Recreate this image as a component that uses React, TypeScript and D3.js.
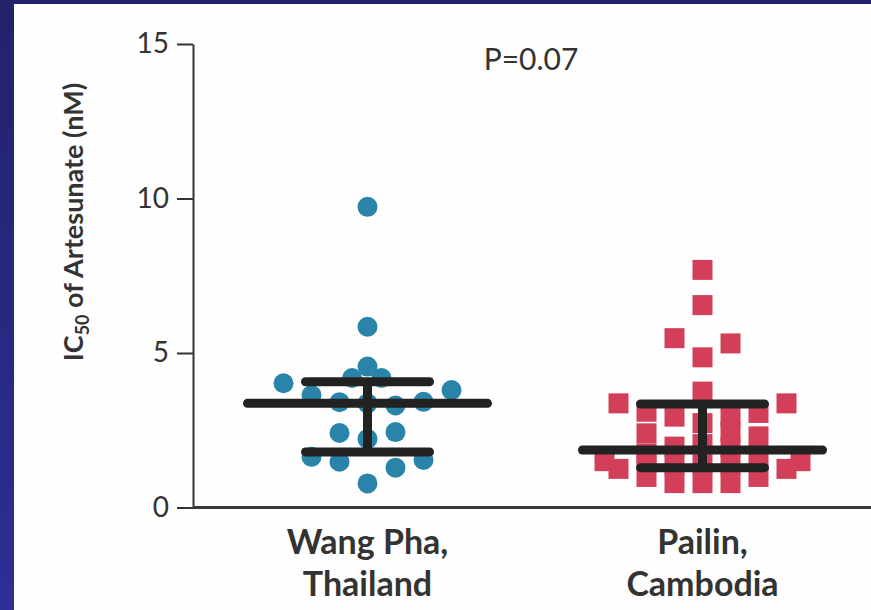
import React, { useEffect, useRef } from "react";
import { select, scaleLinear, scalePoint, axisLeft } from "d3";

// groups and labels
const groups = ["Wang Pha", "Pailin"];
const groupLabels = [
  ["Wang Pha,", "Thailand"],
  ["Pailin,", "Cambodia"],
];

// IC50 values (nM) and swarm column for each isolate
const wangPhaValues = [9.73, 5.85, 4.56, 4.19, 4.19, 4.02, 3.8, 3.64, 3.41, 3.37, 3.42, 3.3, 2.41, 2.44, 2.22, 1.64, 1.48, 1.54, 1.29, 0.78];
const wangPhaColumns = [0, 0, 0, -0.55, 0.5, -3, 3, -2, -1, 0, 2, 1, -1, 1, 0, -2, -1, 2, 1, 0];

const pailinValues = [7.69, 6.55, 5.48, 5.31, 4.86, 3.75, 3.37, 3.37, 3.1, 3.06, 2.94, 2.73, 2.94, 2.4, 2.45, 1.97, 1.95, 2.05, 1.5, 1.5, 1.55, 1.55, 1.4, 1.37, 1.37, 1.25, 1.25, 0.99, 0.99, 0.79, 0.79, 0.79, 2.3, 1.75];
const pailinColumns = [0, 0, -1, 1, 0, 0, -3, 3, -2, 2, -1, 0, 1, -2, 1, -1, 1, 0, -3.5, 3.5, -2, 2, 0, -1, 1, -3, 3, -2, 2, -1, 0, 1, 2, -2];

// median and interquartile range
const medians = [3.37, 1.86];
const q1 = [1.8, 1.29];
const q3 = [4.07, 3.35];

const yTicks = [0, 5, 10, 15];

export default function App() {
  const axisRef = useRef(null);

  const y = scaleLinear().domain([0, 15]).range([507.5, 44]);
  const x = scalePoint().domain(groups).range([200, 870]).padding(0.5);
  const col = scaleLinear().domain([-1, 1]).range([-28, 28]);
  const longHalf = 120;
  const shortHalf = 62;

  useEffect(() => {
    const g = select(axisRef.current);
    g.selectAll("*").remove();
    g.call(axisLeft(y).tickValues(yTicks).tickSize(16).tickSizeOuter(0).tickPadding(8));
    g.select(".domain").attr("stroke", "#333").attr("stroke-width", 2);
    g.selectAll(".tick line").attr("stroke", "#333").attr("stroke-width", 2);
    g.selectAll(".tick text")
      .attr("fill", "#333")
      .attr("font-size", 28)
      .attr("font-family", "Lato, 'Open Sans', sans-serif");
  }, []);

  const wx = x("Wang Pha");
  const px = x("Pailin");

  return (
    <svg width={871} height={610} style={{ position: "absolute", left: 0, top: 0 }}>
      <defs>
        <linearGradient id="frame" x1="0" y1="0" x2="0" y2="1">
          <stop offset="0" stopColor="#22226a" />
          <stop offset="1" stopColor="#2e2e96" />
        </linearGradient>
      </defs>
      <rect width={871} height={610} fill="url(#frame)" />
      <rect x={14} y={4} width={857} height={606} fill="#fefefe" />

      {/* y axis title */}
      <text
        transform="translate(83,222) rotate(-90)"
        textAnchor="middle"
        fontFamily="Lato, 'Open Sans', sans-serif"
        fontWeight="bold"
        fontSize={27}
        fill="#333"
      >
        IC<tspan fontSize={18} dy={6}>50</tspan>
        <tspan dy={-6}> of Artesunate (nM)</tspan>
      </text>

      <g ref={axisRef} transform="translate(193,0)" />
      <line x1={193} x2={871} y1={y(0)} y2={y(0)} stroke="#3a3a3a" strokeWidth={3} />

      <text x={531} y={70} textAnchor="middle" fontFamily="Lato, 'Open Sans', sans-serif" fontSize={30} fill="#333">
        P=0.07
      </text>

      {wangPhaValues.map((v, i) => (
        <circle key={"w" + i} cx={wx + col(wangPhaColumns[i])} cy={y(v)} r={10} fill="#2a84aa" />
      ))}
      {pailinValues.map((v, i) => (
        <rect
          key={"p" + i}
          x={px + col(pailinColumns[i]) - 10}
          y={y(v) - 10}
          width={20}
          height={20}
          fill="#d33f58"
        />
      ))}

      {groups.map((gname, i) => {
        const cx = x(gname);
        return (
          <g key={gname} stroke="#222" strokeWidth={9} strokeLinecap="round">
            <line x1={cx - longHalf} x2={cx + longHalf} y1={y(medians[i])} y2={y(medians[i])} />
            <line x1={cx - shortHalf} x2={cx + shortHalf} y1={y(q3[i])} y2={y(q3[i])} />
            <line x1={cx - shortHalf} x2={cx + shortHalf} y1={y(q1[i])} y2={y(q1[i])} />
            <line x1={cx} x2={cx} y1={y(q3[i])} y2={y(q1[i])} strokeLinecap="butt" />
          </g>
        );
      })}

      {groups.map((gname, i) => (
        <text
          key={"l" + gname}
          x={x(gname)}
          textAnchor="middle"
          fontFamily="Lato, 'Open Sans', sans-serif"
          fontWeight="bold"
          fontSize={34}
          fill="#333"
        >
          <tspan x={x(gname)} y={554}>{groupLabels[i][0]}</tspan>
          <tspan x={x(gname)} y={596}>{groupLabels[i][1]}</tspan>
        </text>
      ))}
    </svg>
  );
}
